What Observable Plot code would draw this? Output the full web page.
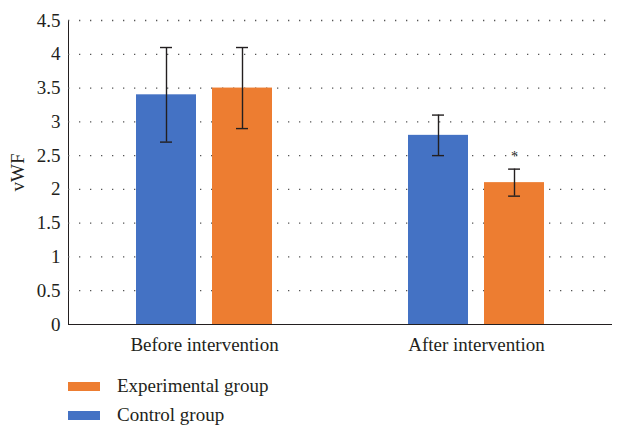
<!DOCTYPE html>
<html>
<head>
<meta charset="utf-8">
<script src="https://cdn.jsdelivr.net/npm/d3@7"></script>
<script src="https://cdn.jsdelivr.net/npm/@observablehq/plot@0.6"></script>
<style>
  body { margin: 0; background: #fff; font-family: "Liberation Serif", serif; color: #231f20; }
  #legend { position: relative; height: 60px; font-size: 19px; }
  .row { position: absolute; left: 68px; display: flex; align-items: center; }
  .sw { width: 32px; height: 9px; margin-right: 17px; }
</style>
</head>
<body>
<div id="chart"></div>
<div id="legend"></div>
<script>
const periods = ["Before intervention", "After intervention"];
const groups = ["Control group", "Experimental group"];
const groupColors = ["#4472C4", "#ED7D31"];
const controlMean = [3.4, 2.8];
const controlLow = [2.7, 2.5];
const controlHigh = [4.1, 3.1];
const experimentalMean = [3.5, 2.1];
const experimentalLow = [2.9, 1.9];
const experimentalHigh = [4.1, 2.3];
const experimentalMark = ["", "*"];
const yTicks = [0, 0.5, 1, 1.5, 2, 2.5, 3, 3.5, 4, 4.5];
const gridTicks = [0.5, 1, 1.5, 2, 2.5, 3, 3.5, 4, 4.5];

const rows = [];
periods.forEach((p, i) => {
  rows.push({period: p, group: groups[0], value: controlMean[i], low: controlLow[i], high: controlHigh[i], mark: ""});
  rows.push({period: p, group: groups[1], value: experimentalMean[i], low: experimentalLow[i], high: experimentalHigh[i], mark: experimentalMark[i]});
});

const chart = Plot.plot({
  width: 626,
  height: 365,
  marginLeft: 67,
  marginRight: 14,
  marginTop: 20,
  marginBottom: 41,
  style: {fontFamily: "'Liberation Serif', serif", fontSize: "19px", color: "#231f20", background: "white", overflow: "visible"},
  fx: {domain: periods, paddingInner: 0, paddingOuter: 0, label: null, axis: "bottom", tickSize: 0, tickPadding: 13},
  x: {domain: groups, paddingInner: 0.208, paddingOuter: 0.873, axis: null},
  y: {domain: [0, 4.5], ticks: yTicks, tickFormat: d => String(d), tickSize: 0, tickPadding: 8, line: true, label: "vWF", labelArrow: false, labelAnchor: "center", labelOffset: 58},
  color: {domain: groups, range: groupColors},
  marks: [
    Plot.ruleY(gridTicks, {y: d => d, stroke: "#555", strokeWidth: 1.3, strokeDasharray: "1.3,9.7"}),
    Plot.barY(rows, {fx: "period", x: "group", y: "value", fill: "group"}),
    Plot.ruleY([0], {stroke: "#231f20", strokeWidth: 1.2}),
    Plot.ruleX(rows, {fx: "period", x: "group", y1: "low", y2: "high", stroke: "#231f20", strokeWidth: 1.4}),
    Plot.tickY(rows, {fx: "period", x: "group", y: "low", stroke: "#231f20", strokeWidth: 1.4, insetLeft: 24, insetRight: 24}),
    Plot.tickY(rows, {fx: "period", x: "group", y: "high", stroke: "#231f20", strokeWidth: 1.4, insetLeft: 24, insetRight: 24}),
    Plot.text(rows, {fx: "period", x: "group", y: "high", text: "mark", dy: -13, fontSize: 14, fill: "#231f20"})
  ]
});
document.getElementById("chart").appendChild(chart);

const legend = document.getElementById("legend");
const legendOrder = [1, 0];
legendOrder.forEach((gi, k) => {
  const r = document.createElement("div");
  r.className = "row";
  r.style.top = (10 + k * 29) + "px";
  r.innerHTML = `<span class="sw" style="background:${groupColors[gi]}"></span><span>${groups[gi]}</span>`;
  legend.appendChild(r);
});
</script>
</body>
</html>
